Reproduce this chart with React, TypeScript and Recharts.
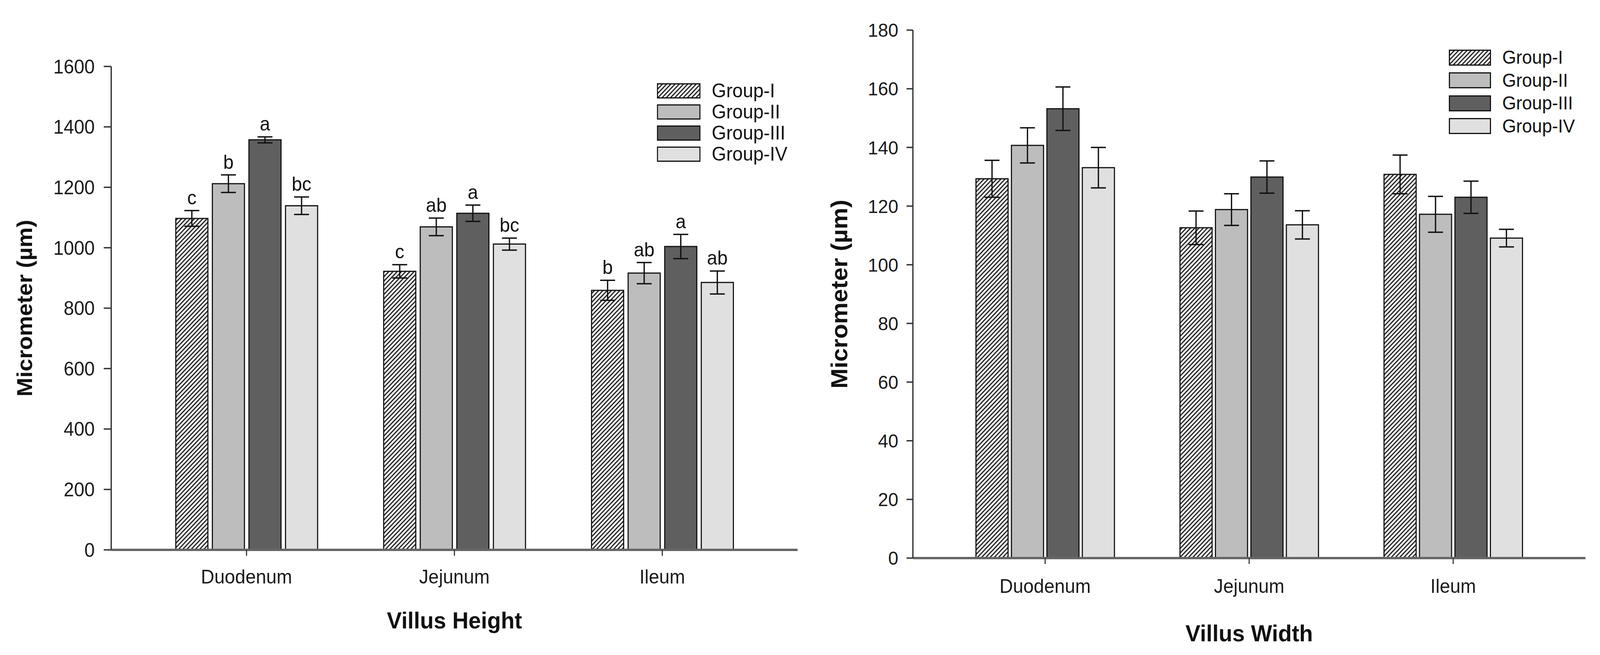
import React from 'react';
import { BarChart, Bar, XAxis, YAxis, ErrorBar, Legend, Rectangle } from 'recharts';

const FONT = '"Liberation Sans", Arial, Helvetica, sans-serif';

// the page photo is only 4096px wide, so the 4287px layout is squeezed to fit
const FIT_X = 4096 / 4287;

const categories = ['Duodenum', 'Jejunum', 'Ileum'];
const groupNames = ['Group-I', 'Group-II', 'Group-III', 'Group-IV'];

// Villus Height (µm), mean and SE per group
const heightG1 = [1097, 922, 859];
const heightG2 = [1212, 1069, 916];
const heightG3 = [1357, 1114, 1004];
const heightG4 = [1139, 1012, 885];
const heightErrG1 = [26, 22, 33];
const heightErrG2 = [29, 29, 35];
const heightErrG3 = [10, 27, 40];
const heightErrG4 = [29, 20, 38];
const heightLettersG1 = ['c', 'c', 'b'];
const heightLettersG2 = ['b', 'ab', 'ab'];
const heightLettersG3 = ['a', 'a', 'a'];
const heightLettersG4 = ['bc', 'bc', 'ab'];
const heightTicks = [0, 200, 400, 600, 800, 1000, 1200, 1400, 1600];

// Villus Width (µm)
const widthG1 = [129.3, 112.6, 130.8];
const widthG2 = [140.7, 118.8, 117.2];
const widthG3 = [153.2, 129.9, 123.0];
const widthG4 = [133.1, 113.6, 109.1];
const widthErrG1 = [6.3, 5.7, 6.6];
const widthErrG2 = [6.0, 5.4, 6.1];
const widthErrG3 = [7.4, 5.5, 5.5];
const widthErrG4 = [6.9, 4.8, 3.0];
const widthTicks = [0, 20, 40, 60, 80, 100, 120, 140, 160, 180];

const solidFills = ['#bdbdbd', '#5f5f5f', '#e0e0e0'];

function buildRows(values: number[][], errors: number[][], letters?: string[][]) {
  return categories.map((cat, i) => {
    const row: any = { cat };
    values.forEach((vals, g) => {
      row[`v${g}`] = vals[i];
      row[`e${g}`] = errors[g][i];
      row[`l${g}`] = letters ? letters[g][i] : '';
    });
    return row;
  });
}

const heightRows = buildRows(
  [heightG1, heightG2, heightG3, heightG4],
  [heightErrG1, heightErrG2, heightErrG3, heightErrG4],
  [heightLettersG1, heightLettersG2, heightLettersG3, heightLettersG4],
);
const widthRows = buildRows(
  [widthG1, widthG2, widthG3, widthG4],
  [widthErrG1, widthErrG2, widthErrG3, widthErrG4],
);

// bar + significance letter above its error bar
const makeShape = (g: number) => (props: any) => {
  const { x, y, width, height, fill, payload } = props;
  const v = payload[`v${g}`];
  const e = payload[`e${g}`];
  const letter = payload[`l${g}`];
  const k = v ? height / v : 0;
  return (
    <g>
      <Rectangle x={x} y={y} width={width} height={height} fill={fill} stroke='#111' strokeWidth={3} />
      {letter ? (
        <text
          x={x + width / 2}
          y={y - e * k - 16}
          textAnchor='middle'
          fontSize={50}
          fontFamily={FONT}
          fill='#111'
        >
          {letter}
        </text>
      ) : null}
    </g>
  );
};

const legendContent = (cfg: any) => (props: any) => {
  const payload = props.payload || [];
  return (
    <div style={{ fontFamily: FONT }}>
      {payload.map((p: any) => (
        <div key={p.value} style={{ display: 'flex', alignItems: 'center', height: cfg.rowH }}>
          <svg width={cfg.swW} height={cfg.swH} style={{ display: 'block' }}>
            <rect
              x={1.5}
              y={1.5}
              width={cfg.swW - 3}
              height={cfg.swH - 3}
              fill={(p.payload && p.payload.fill) || p.color}
              stroke='#111'
              strokeWidth={3}
            />
          </svg>
          <span style={{ marginLeft: 30, fontSize: cfg.fontSize, color: '#111', lineHeight: 1, whiteSpace: 'nowrap' }}>
            {p.value}
          </span>
        </div>
      ))}
    </div>
  );
};

function GroupChart(props: any) {
  const {
    data, width, height, margin, yWidth, xHeight, domain, ticks, hatchId,
    barSize, barGap, pad, yTick, xTickMargin, yLabel, xTitle, legend,
  } = props;
  const fills = [`url(#${hatchId})`, ...solidFills];
  return (
    <BarChart width={width} height={height} data={data} margin={margin} barSize={barSize} barGap={barGap}>
      <defs>
        <pattern id={hatchId} patternUnits='userSpaceOnUse' width={8} height={8} patternTransform='rotate(45)'>
          <rect width={8} height={8} fill='#fff' />
          <line x1={4} y1={0} x2={4} y2={8} stroke='#111' strokeWidth={3} />
        </pattern>
      </defs>
      <XAxis
        dataKey='cat'
        height={xHeight}
        padding={{ left: pad, right: pad }}
        axisLine={{ stroke: '#666', strokeWidth: 6 }}
        tickLine={{ stroke: '#333', strokeWidth: 3 }}
        tickSize={15}
        tickMargin={xTickMargin}
        tick={{ fontSize: 50, fill: '#1a1a1a', fontFamily: FONT }}
        label={{
          value: xTitle.text,
          position: 'insideTop',
          offset: xTitle.offset,
          style: { fontSize: 60, fontWeight: 700, fill: '#111', fontFamily: FONT },
        }}
      />
      <XAxis
        xAxisId='frame'
        dataKey='cat'
        orientation='top'
        height={0}
        tick={false}
        tickLine={false}
        axisLine={{ stroke: '#555', strokeWidth: 4 }}
      />
      <YAxis
        width={yWidth}
        domain={domain}
        ticks={ticks}
        interval={0}
        axisLine={{ stroke: '#333', strokeWidth: 3.5 }}
        tickLine={{ stroke: '#333', strokeWidth: 3.5 }}
        tickSize={yTick.size}
        tickMargin={yTick.margin}
        tick={{ fontSize: yTick.fontSize, fill: '#1a1a1a', fontFamily: FONT }}
        label={{
          value: 'Micrometer (µm)',
          angle: -90,
          position: 'insideLeft',
          offset: yLabel.offset,
          style: { textAnchor: 'middle', fontSize: yLabel.fontSize, fontWeight: 700, fill: '#111', fontFamily: FONT },
        }}
      />
      <YAxis
        yAxisId='frame'
        orientation='right'
        width={0}
        domain={domain}
        tick={false}
        tickLine={false}
        axisLine={{ stroke: '#555', strokeWidth: 4 }}
      />
      <Legend
        layout='vertical'
        align='center'
        verticalAlign='middle'
        wrapperStyle={{ left: legend.left, top: legend.top, width: 'auto' }}
        content={legendContent(legend)}
      />
      {groupNames.map((name, g) => (
        <Bar
          key={name}
          dataKey={`v${g}`}
          name={name}
          fill={fills[g]}
          stroke='#111'
          strokeWidth={3}
          shape={makeShape(g)}
          isAnimationActive={false}
        >
          <ErrorBar
            dataKey={`e${g}`}
            width={20}
            strokeWidth={3.5}
            stroke='#111'
            direction='y'
            isAnimationActive={false}
          />
        </Bar>
      ))}
    </BarChart>
  );
}

export default function App() {
  return (
    <div
      style={{
        position: 'absolute',
        left: 0,
        top: 0,
        width: 4287,
        height: 1676,
        background: '#fff',
        fontFamily: FONT,
        transform: `scaleX(${FIT_X})`,
        transformOrigin: '0 0',
      }}
    >
      <div style={{ position: 'absolute', left: 0, top: 0 }}>
        <GroupChart
          data={heightRows}
          width={2160}
          height={1676}
          margin={{ top: 170, right: 23, bottom: 0, left: 0 }}
          yWidth={298}
          xHeight={269}
          domain={[0, 1600]}
          ticks={heightTicks}
          hatchId='hatch-height'
          barSize={86}
          barGap={12}
          pad={84}
          yTick={{ size: 20, margin: 24, fontSize: 50 }}
          xTickMargin={36}
          yLabel={{ offset: 65, fontSize: 58 }}
          xTitle={{ text: 'Villus Height', offset: 158 }}
          legend={{ left: 1760, top: 205, rowH: 54, swW: 117, swH: 39, fontSize: 50 }}
        />
      </div>
      <div style={{ position: 'absolute', left: 2150, top: 0 }}>
        <GroupChart
          data={widthRows}
          width={2137}
          height={1676}
          margin={{ top: 77, right: 39, bottom: 0, left: 0 }}
          yWidth={296}
          xHeight={248}
          domain={[0, 180]}
          ticks={widthTicks}
          hatchId='hatch-width'
          barSize={86}
          barGap={9}
          pad={81}
          yTick={{ size: 17, margin: 22, fontSize: 49 }}
          xTickMargin={39}
          yLabel={{ offset: 98, fontSize: 62 }}
          xTitle={{ text: 'Villus Width', offset: 170 }}
          legend={{ left: 1732, top: 118, rowH: 58.5, swW: 113, swH: 41, fontSize: 48 }}
        />
      </div>
    </div>
  );
}
